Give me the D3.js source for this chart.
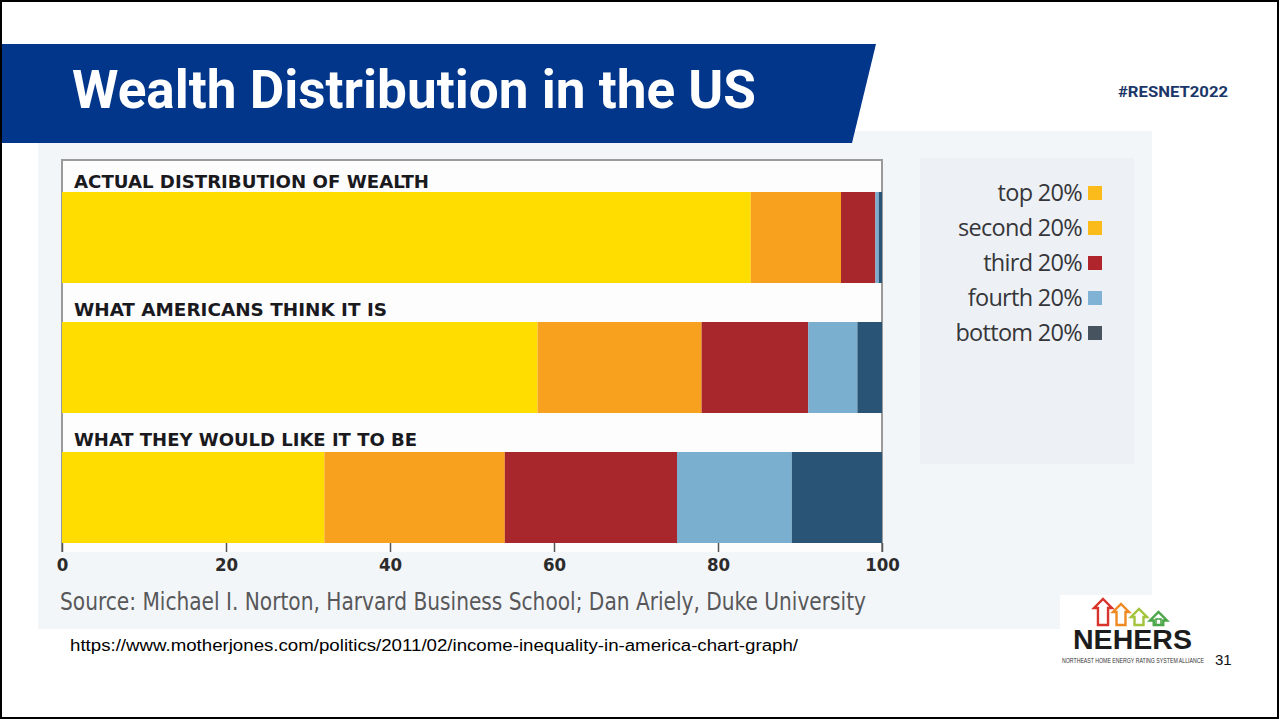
<!DOCTYPE html>
<html>
<head>
<meta charset="utf-8">
<script src="https://cdn.jsdelivr.net/npm/d3@7"></script>
<style>
  html, body { margin: 0; padding: 0; background: #fff; }
  svg { display: block; }
</style>
</head>
<body>
<svg id="slide" width="1279" height="719"></svg>
<script>
// Share of total wealth held by each quintile (percent)
const categories = ["ACTUAL DISTRIBUTION OF WEALTH", "WHAT AMERICANS THINK IT IS", "WHAT THEY WOULD LIKE IT TO BE"];
const quintiles = ["top 20%", "second 20%", "third 20%", "fourth 20%", "bottom 20%"];
const actualShares = [84, 11, 4.2, 0.4, 0.4];
const estimatedShares = [58, 20, 13, 6, 3];
const idealShares = [32, 22, 21, 14, 11];
const xTickValues = [0, 20, 40, 60, 80, 100];
const barColors = ["#ffdd00", "#f7a11f", "#a8272d", "#7aafd0", "#2a5475"];
const legendColors = ["#fbbc1b", "#fbbc1b", "#b0252b", "#7fb2d4", "#47535e"];

const seriesByCategory = [actualShares, estimatedShares, idealShares];
const rows = categories.map((c, i) => {
  const r = { category: c };
  quintiles.forEach((q, j) => { r[q] = seriesByCategory[i][j]; });
  return r;
});

const svg = d3.select("#slide");
const condensed = "'Liberation Sans Narrow', 'DejaVu Sans Condensed', sans-serif";

// light backdrop behind the chart
svg.append("rect").attr("x", 38).attr("y", 131).attr("width", 1114).attr("height", 498).attr("fill", "#f3f6f9");

// title banner
svg.append("polygon")
  .attr("points", "0,44 876,44 852,143 0,143")
  .attr("fill", "#02368b");
svg.append("text")
  .attr("x", 72).attr("y", 108)
  .attr("fill", "#ffffff")
  .attr("font-family", "Roboto, sans-serif")
  .attr("font-weight", 700)
  .attr("font-size", 54)
  .attr("textLength", 684).attr("lengthAdjust", "spacingAndGlyphs")
  .text("Wealth Distribution in the US");

svg.append("text")
  .attr("x", 1118).attr("y", 97)
  .attr("fill", "#1b3669")
  .attr("font-family", "Roboto, sans-serif")
  .attr("font-weight", 700)
  .attr("font-size", 15)
  .attr("textLength", 110).attr("lengthAdjust", "spacingAndGlyphs")
  .text("#RESNET2022");

// chart
const x = d3.scaleLinear().domain([0, 100]).range([62, 882]);
const band = d3.scaleBand().domain(categories).range([162, 552]).padding(0);
const barOffset = 30, barHeight = 91;

// plot frame
svg.append("rect").attr("x", x(0)).attr("y", 160).attr("width", x(100) - x(0)).attr("height", 392)
  .attr("fill", "#fdfdfe");
svg.append("path")
  .attr("d", `M${x(0)},552 V160 H${x(100)} V552`)
  .attr("fill", "none").attr("stroke", "#9a9a9a").attr("stroke-width", 2);

const stack = d3.stack().keys(quintiles);
const layers = stack(rows);

svg.append("g").selectAll("g")
  .data(layers)
  .join("g")
  .attr("fill", (d, i) => barColors[i])
  .selectAll("rect")
  .data(d => d)
  .join("rect")
  .attr("x", d => x(d[0]))
  .attr("width", d => x(d[1]) - x(d[0]))
  .attr("y", d => band(d.data.category) + barOffset)
  .attr("height", barHeight);

const labelLengths = [355, 313, 343];
svg.append("g").selectAll("text")
  .data(categories)
  .join("text")
  .attr("x", 74)
  .attr("y", (d, i) => band(d) + (i === 0 ? 26 : 24))
  .attr("fill", "#1a1a1e")
  .attr("font-family", condensed)
  .attr("font-weight", 700)
  .attr("font-size", 18)
  .attr("textLength", (d, i) => labelLengths[i])
  .attr("lengthAdjust", "spacingAndGlyphs")
  .text(d => d);

// x axis
const axis = svg.append("g")
  .attr("transform", `translate(0,${band(categories[2]) + barOffset + barHeight})`)
  .call(d3.axisBottom(x).tickValues(xTickValues).tickSize(9).tickPadding(6));
axis.select(".domain").remove();
axis.selectAll(".tick line").attr("stroke", "#555").attr("stroke-width", 1.5);
axis.selectAll(".tick text")
  .attr("fill", "#2b2b2b")
  .attr("font-family", condensed)
  .attr("font-weight", 700)
  .attr("font-size", 18.5);

svg.append("text")
  .attr("x", 60).attr("y", 610)
  .attr("fill", "#58585a")
  .attr("font-family", condensed)
  .attr("font-size", 24)
  .attr("textLength", 806).attr("lengthAdjust", "spacingAndGlyphs")
  .text("Source: Michael I. Norton, Harvard Business School; Dan Ariely, Duke University");

// legend
svg.append("rect").attr("x", 920).attr("y", 158).attr("width", 214).attr("height", 306).attr("fill", "#edf1f5");
const legend = svg.append("g").selectAll("g")
  .data(quintiles)
  .join("g")
  .attr("transform", (d, i) => `translate(0,${193 + i * 35})`);
legend.append("rect")
  .attr("x", 1088).attr("y", -7).attr("width", 14).attr("height", 14)
  .attr("fill", (d, i) => legendColors[i]);
legend.append("text")
  .attr("x", 1082).attr("y", 8)
  .attr("text-anchor", "end")
  .attr("fill", "#36363a")
  .attr("font-family", "'Open Sans', sans-serif")
  .attr("font-size", 23.5)
  .attr("letter-spacing", -0.7)
  .text(d => d);

// footer link
svg.append("text")
  .attr("x", 70).attr("y", 651)
  .attr("fill", "#000")
  .attr("font-family", "'Liberation Sans', Arial, sans-serif")
  .attr("font-size", 16)
  .attr("textLength", 728).attr("lengthAdjust", "spacingAndGlyphs")
  .text("https://www.motherjones.com/politics/2011/02/income-inequality-in-america-chart-graph/");

// NEHERS logo
svg.append("rect").attr("x", 1060).attr("y", 595).attr("width", 92).attr("height", 36).attr("fill", "#fff");
const houses = [
  { x: 1094, top: 599, w: 18, color: "#d9342b" },
  { x: 1113, top: 604, w: 16, color: "#ef8a22" },
  { x: 1131, top: 609, w: 16, color: "#a3c43c" },
  { x: 1150, top: 612, w: 17, color: "#4aa647" }
];
const base = 625;
svg.append("g").selectAll("path")
  .data(houses)
  .join("path")
  .attr("d", h => {
    const cx = h.x + h.w / 2, eave = h.top + h.w * 0.5;
    const wl = h.x + h.w * 0.22, wr = h.x + h.w * 0.78;
    return `M${wl},${base} V${eave} H${h.x} L${cx},${h.top} L${h.x + h.w},${eave} H${wr} V${base} Z`;
  })
  .attr("fill", "none")
  .attr("stroke", h => h.color)
  .attr("stroke-width", 2.4)
  .attr("stroke-linejoin", "miter");
svg.append("rect").attr("x", 1156).attr("y", 619).attr("width", 5).attr("height", 6)
  .attr("fill", "none").attr("stroke", "#4aa647").attr("stroke-width", 1.6);
svg.append("text")
  .attr("x", 1073).attr("y", 649)
  .attr("fill", "#1c1c1c")
  .attr("font-family", "'Liberation Sans', Arial, sans-serif")
  .attr("font-weight", 900)
  .attr("font-size", 27)
  .attr("textLength", 119).attr("lengthAdjust", "spacingAndGlyphs")
  .text("NEHERS");
svg.append("text")
  .attr("transform", "translate(1062,663) scale(1,1.35)")
  .attr("fill", "#333")
  .attr("font-family", "'Liberation Sans', Arial, sans-serif")
  .attr("font-size", 4.8)
  .attr("textLength", 142).attr("lengthAdjust", "spacingAndGlyphs")
  .text("NORTHEAST HOME ENERGY RATING SYSTEM ALLIANCE");
svg.append("text")
  .attr("x", 1215).attr("y", 665)
  .attr("fill", "#111")
  .attr("font-family", "'Liberation Sans', Arial, sans-serif")
  .attr("font-size", 15)
  .text("31");

// slide border
svg.append("rect").attr("x", 1).attr("y", 1).attr("width", 1277).attr("height", 717)
  .attr("fill", "none").attr("stroke", "#000").attr("stroke-width", 2);
</script>
</body>
</html>
